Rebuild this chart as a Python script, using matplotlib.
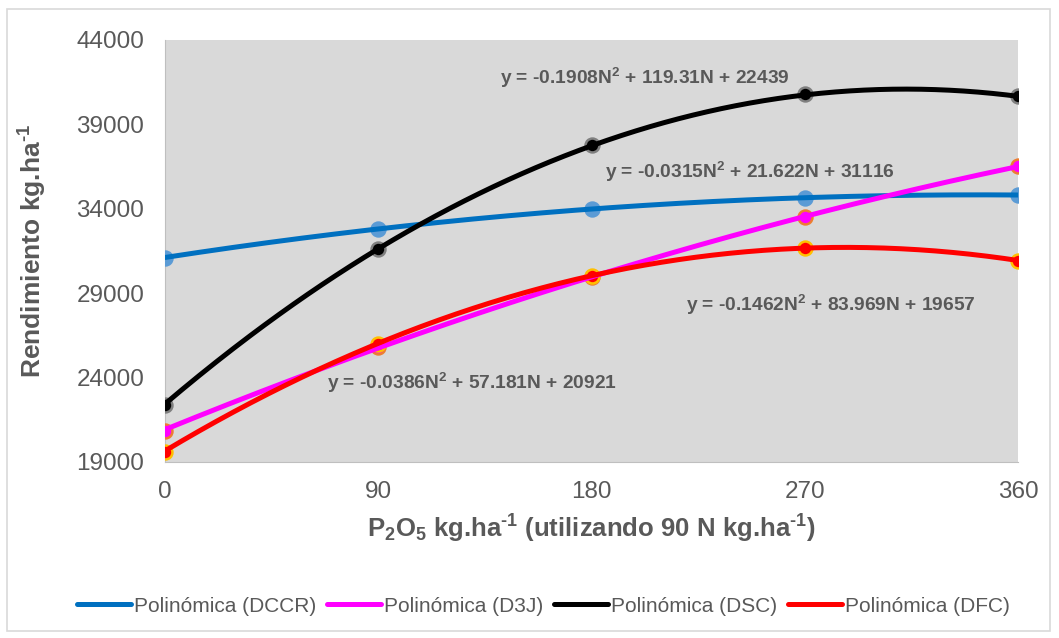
import numpy as np
import matplotlib.pyplot as plt
from matplotlib.patches import Rectangle

plt.rcParams['font.family'] = ['Liberation Sans', 'DejaVu Sans']
plt.rcParams['mathtext.fontset'] = 'custom'
plt.rcParams['mathtext.rm'] = 'Liberation Sans:bold'
plt.rcParams['mathtext.it'] = 'Liberation Sans:bold'
plt.rcParams['mathtext.bf'] = 'Liberation Sans:bold'
plt.rcParams['mathtext.default'] = 'rm'

# data
p2o5 = [0, 90, 180, 270, 360]
series_names = ['DCCR', 'D3J', 'DSC', 'DFC']
dccr = [31100, 32800, 34000, 34660, 34830]
d3j = [20850, 25800, 29950, 33540, 36520]
dsc = [22400, 31600, 37760, 40800, 40680]
dfc = [19600, 26000, 30000, 31680, 30930]

# trendline coefficients (a, b, c) from the equation labels
coef_dccr = [-0.0315, 21.622, 31116]
coef_d3j = [-0.0386, 57.181, 20921]
coef_dsc = [-0.1908, 119.31, 22439]
coef_dfc = [-0.1462, 83.969, 19657]

eq_labels = ['y = -0.0315N$^2$ + 21.622N + 31116',
             'y = -0.0386N$^2$ + 57.181N + 20921',
             'y = -0.1908N$^2$ + 119.31N + 22439',
             'y = -0.1462N$^2$ + 83.969N + 19657']
eq_pos = [(185.5, 36190), (68.5, 23700), (141.3, 41750), (219.8, 28320)]

values = [dccr, d3j, dsc, dfc]
coefs = [coef_dccr, coef_d3j, coef_dsc, coef_dfc]
line_colors = ['#0070C0', '#FF00FF', '#000000', '#FF0000']
face_colors = ['#5B9BD5', '#FF00FF', '#000000', '#FF0000']
edge_colors = ['#5B9BD5', '#ED7D31', '#7F7F7F', '#FFC000']

txt = '#595959'

fig = plt.figure(figsize=(10.59, 6.38), dpi=100)
fig.patches.append(Rectangle((7/1059, 1-631/638), 1043/1059, 622/638,
                             transform=fig.transFigure, fill=False,
                             edgecolor='#D9D9D9', linewidth=1.2))
ax = fig.add_axes([165/1059, 1-462/638, 853/1059, 422/638])
ax.set_facecolor('#D9D9D9')

xs = np.linspace(0, 360, 300)
for vals, fc, ec in zip(values, face_colors, edge_colors):
    ax.plot(p2o5, vals, linestyle='none', marker='o', markersize=10,
            markerfacecolor=fc, markeredgecolor=ec, markeredgewidth=1.8,
            zorder=3)
for name, c, lc in zip(series_names, coefs, line_colors):
    ax.plot(xs, np.polyval(c, xs), color=lc, linewidth=3.6,
            solid_capstyle='round', label='Polinómica (%s)' % name, zorder=4)

for lab, (x, y) in zip(eq_labels, eq_pos):
    ax.text(x, y, lab, fontsize=13.8, fontweight='bold', color=txt,
            va='center', ha='left', zorder=5)

ax.set_xlim(0, 360)
ax.set_ylim(19000, 44000)
ax.set_xticks(p2o5)
ax.set_yticks([19000, 24000, 29000, 34000, 39000, 44000])
ax.tick_params(length=0, labelsize=17.5, labelcolor=txt)
ax.tick_params(axis='y', pad=15)
ax.tick_params(axis='x', pad=14)
for s in ['top', 'right']:
    ax.spines[s].set_visible(False)
ax.spines['left'].set_color('#BFBFBF')
ax.spines['bottom'].set_color('#BFBFBF')

ax.set_xlabel(r'P$_2$O$_5$ kg.ha$^{\text{-1}}$ (utilizando 90 N kg.ha$^{\text{-1}}$)',
              fontsize=18.5, fontweight='bold', color=txt, labelpad=7)
ax.set_ylabel(r'Rendimiento kg.ha$^{\text{-1}}$', fontsize=19, fontweight='bold',
              color=txt, labelpad=20)

fig.legend(loc='center', bbox_to_anchor=(0.513, 1-606/638), ncol=4,
           frameon=False, fontsize=15, labelcolor=txt, handlelength=2.6,
           handletextpad=0.15, columnspacing=0.5)

fig.savefig('out.png', dpi=100)
plt.close(fig)
